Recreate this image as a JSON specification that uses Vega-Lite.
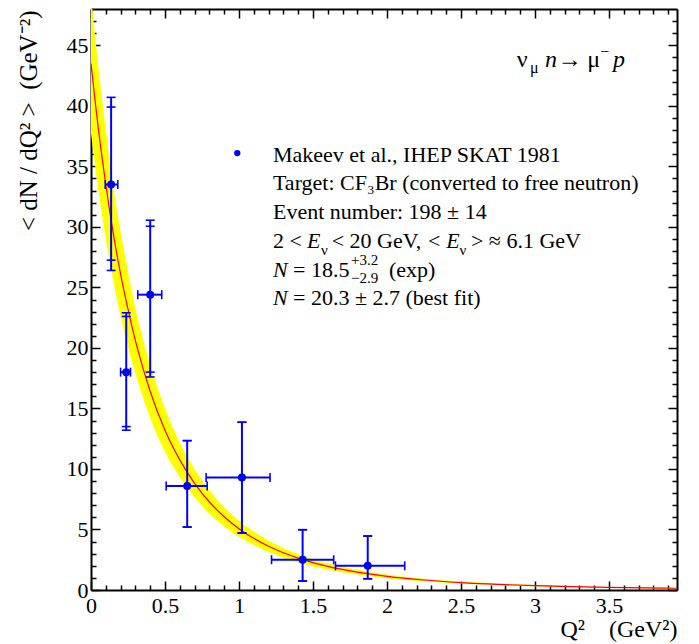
{
  "$schema": "https://vega.github.io/schema/vega-lite/v6.json",
  "width": 586,
  "height": 581,
  "autosize": {"type": "none"},
  "padding": {"left": 91, "top": 9, "right": 22, "bottom": 54},
  "background": "white",
  "config": {
    "view": {"stroke": null},
    "axis": {
      "domainColor": "black", "domainWidth": 2, "tickColor": "black", "tickWidth": 1.5,
      "labelFont": "Liberation Serif", "labelFontSize": 22, "labelColor": "black",
      "titleFont": "Liberation Serif", "titleFontWeight": "normal", "titleColor": "black", "titleFontSize": 25,
      "grid": false, "labelOverlap": false, "labelFlush": false, "zindex": 1
    },
    "text": {"font": "Liberation Serif", "align": "left", "baseline": "alphabetic", "color": "black"}
  },
  "datasets": {
    "fit": [
      {"q2": 0, "f": 43.5, "lo": 37.7, "hi": 49.3},
      {"q2": 0.025, "f": 40.7, "lo": 35.3, "hi": 46.1},
      {"q2": 0.05, "f": 38.1, "lo": 33.0, "hi": 43.2},
      {"q2": 0.1, "f": 33.5, "lo": 29.0, "hi": 38.0},
      {"q2": 0.15, "f": 29.5, "lo": 25.6, "hi": 33.4},
      {"q2": 0.2, "f": 26.1, "lo": 22.6, "hi": 29.6},
      {"q2": 0.25, "f": 23.2, "lo": 20.1, "hi": 26.3},
      {"q2": 0.3, "f": 20.6, "lo": 17.9, "hi": 23.3},
      {"q2": 0.4, "f": 16.4, "lo": 14.2, "hi": 18.6},
      {"q2": 0.5, "f": 13.2, "lo": 11.4, "hi": 15.0},
      {"q2": 0.6, "f": 10.75, "lo": 9.32, "hi": 12.18},
      {"q2": 0.7, "f": 8.81, "lo": 7.64, "hi": 9.98},
      {"q2": 0.8, "f": 7.27, "lo": 6.30, "hi": 8.24},
      {"q2": 0.9, "f": 6.05, "lo": 5.25, "hi": 6.85},
      {"q2": 1.0, "f": 5.06, "lo": 4.39, "hi": 5.73},
      {"q2": 1.2, "f": 3.61, "lo": 3.13, "hi": 4.09},
      {"q2": 1.4, "f": 2.63, "lo": 2.28, "hi": 2.98},
      {"q2": 1.6, "f": 1.95, "lo": 1.69, "hi": 2.21},
      {"q2": 1.8, "f": 1.475, "lo": 1.28, "hi": 1.67},
      {"q2": 2.0, "f": 1.131, "lo": 0.98, "hi": 1.28},
      {"q2": 2.25, "f": 0.826, "lo": 0.716, "hi": 0.936},
      {"q2": 2.5, "f": 0.615, "lo": 0.533, "hi": 0.697},
      {"q2": 2.75, "f": 0.465, "lo": 0.403, "hi": 0.527},
      {"q2": 3.0, "f": 0.357, "lo": 0.310, "hi": 0.404},
      {"q2": 3.25, "f": 0.278, "lo": 0.241, "hi": 0.315},
      {"q2": 3.5, "f": 0.219, "lo": 0.190, "hi": 0.248},
      {"q2": 3.75, "f": 0.174, "lo": 0.151, "hi": 0.197},
      {"q2": 3.96, "f": 0.145, "lo": 0.126, "hi": 0.164}
    ],
    "pts": [
      {"q2": 0.136, "xLo": 0.096, "xHi": 0.181, "y": 33.5, "yLo": 26.4, "yHi": 40.7, "yLo2": 27.25, "yHi2": 39.9},
      {"q2": 0.238, "xLo": 0.200, "xHi": 0.267, "y": 18.0, "yLo": 13.2, "yHi": 22.9, "yLo2": 13.5, "yHi2": 22.6},
      {"q2": 0.400, "xLo": 0.316, "xHi": 0.478, "y": 24.4, "yLo": 17.6, "yHi": 30.55, "yLo2": 18.0, "yHi2": 30.05},
      {"q2": 0.650, "xLo": 0.508, "xHi": 0.785, "y": 8.6, "yLo": 5.2, "yHi": 12.34, "yLo2": 5.2, "yHi2": 12.34},
      {"q2": 1.020, "xLo": 0.778, "xHi": 1.210, "y": 9.3, "yLo": 4.71, "yHi": 13.86, "yLo2": 4.71, "yHi2": 13.86},
      {"q2": 1.430, "xLo": 1.220, "xHi": 1.640, "y": 2.5, "yLo": 0.74, "yHi": 4.98, "yLo2": 0.74, "yHi2": 4.98},
      {"q2": 1.870, "xLo": 1.652, "xHi": 2.120, "y": 2.0, "yLo": 0.93, "yHi": 4.46, "yLo2": 0.93, "yHi2": 4.46}
    ],
    "leg": [
      {"q2": 0.9885, "v": 36.1}
    ],
    "txt": [
      {"g": "n", "q2": 1.2297, "v": 35.39, "t": "Makeev et al., IHEP SKAT 1981"},
      {"g": "n", "q2": 1.2297, "v": 33.05, "t": "Target: CF₃Br (converted to free neutron)"},
      {"g": "n", "q2": 1.2297, "v": 30.63, "t": "Event number: 198 ± 14"},
      {"g": "n", "q2": 1.2297, "v": 28.23, "t": "2 <"},
      {"g": "i", "q2": 1.4595, "v": 28.23, "t": "E"},
      {"g": "s", "q2": 1.554, "v": 27.68, "t": "ν"},
      {"g": "n", "q2": 1.6264, "v": 28.23, "t": "< 20 GeV,"},
      {"g": "n", "q2": 2.277, "v": 28.23, "t": "<"},
      {"g": "i", "q2": 2.40, "v": 28.23, "t": "E"},
      {"g": "s", "q2": 2.49, "v": 27.68, "t": "ν"},
      {"g": "n", "q2": 2.5676, "v": 28.23, "t": "> ≈ 6.1 GeV"},
      {"g": "i", "q2": 1.2297, "v": 25.88, "t": "N"},
      {"g": "n", "q2": 1.3649, "v": 25.88, "t": "= 18.5"},
      {"g": "s", "q2": 1.7568, "v": 26.85, "t": "+3.2"},
      {"g": "s", "q2": 1.7568, "v": 25.40, "t": "−2.9"},
      {"g": "n", "q2": 2.0135, "v": 25.88, "t": "(exp)"},
      {"g": "i", "q2": 1.2297, "v": 23.55, "t": "N"},
      {"g": "n", "q2": 1.3649, "v": 23.55, "t": "= 20.3 ± 2.7 (best fit)"},
      {"g": "rn", "q2": 2.8764, "v": 43.23, "t": "ν"},
      {"g": "rs", "q2": 2.9662, "v": 42.74, "t": "μ"},
      {"g": "ri", "q2": 3.0676, "v": 43.23, "t": "n"},
      {"g": "rn", "q2": 3.1534, "v": 43.23, "t": "→"},
      {"g": "rn", "q2": 3.3534, "v": 43.23, "t": "μ"},
      {"g": "rs", "q2": 3.442, "v": 44.03, "t": "−"},
      {"g": "ri", "q2": 3.527, "v": 43.23, "t": "p"}
    ]
  },
  "resolve": {"axis": {"x": "independent", "y": "independent"}},
  "layer": [
    {
      "data": {"name": "fit"},
      "mark": {"type": "area", "color": "#ffff00", "opacity": 1, "interpolate": "monotone", "clip": true},
      "encoding": {
        "x": {"field": "q2", "type": "quantitative", "scale": {"domain": [0, 3.96], "nice": false, "zero": false},
          "axis": {
            "orient": "bottom",
            "values": [0,0.1,0.2,0.3,0.4,0.5,0.6,0.7,0.8,0.9,1,1.1,1.2,1.3,1.4,1.5,1.6,1.7,1.8,1.9,2,2.1,2.2,2.3,2.4,2.5,2.6,2.7,2.8,2.9,3,3.1,3.2,3.3,3.4,3.5,3.6,3.7,3.8,3.9],
            "tickSize": {"condition": {"test": "abs(datum.value*2-round(datum.value*2))<0.01", "value": -9}, "value": -5},
            "labelExpr": "abs(datum.value*2-round(datum.value*2))<0.01 ? format(datum.value, '~g') : ''",
            "labelPadding": 14,
            "title": "Q²\u00a0\u00a0\u00a0\u00a0(GeV²)",
            "titleFontSize": 24,
            "titleX": 586, "titleY": 46, "titleAlign": "right", "titleBaseline": "alphabetic", "titleAnchor": "end"
          }},
        "y": {"field": "lo", "type": "quantitative", "scale": {"domain": [0, 48], "nice": false, "zero": false},
          "axis": {
            "orient": "left",
            "values": [0,1,2,3,4,5,6,7,8,9,10,11,12,13,14,15,16,17,18,19,20,21,22,23,24,25,26,27,28,29,30,31,32,33,34,35,36,37,38,39,40,41,42,43,44,45,46,47],
            "tickSize": {"condition": {"test": "datum.value % 5 === 0", "value": -9}, "value": -5},
            "labelExpr": "datum.value % 5 === 0 ? datum.label : ''",
            "labelPadding": 12,
            "title": "< dN / dQ² >\u00a0\u00a0(GeV⁻²)",
            "titleAngle": -90, "titleX": -55, "titleY": 1, "titleAlign": "right", "titleBaseline": "alphabetic", "titleAnchor": "end"
          }},
        "y2": {"field": "hi"}
      }
    },
    {
      "data": {"name": "fit"},
      "mark": {"type": "line", "color": "#ff0000", "strokeWidth": 1.2, "interpolate": "monotone", "clip": true},
      "encoding": {
        "x": {"field": "q2", "type": "quantitative", "scale": {"domain": [0, 3.96], "nice": false, "zero": false},
          "axis": {
            "orient": "top",
            "values": [0,0.1,0.2,0.3,0.4,0.5,0.6,0.7,0.8,0.9,1,1.1,1.2,1.3,1.4,1.5,1.6,1.7,1.8,1.9,2,2.1,2.2,2.3,2.4,2.5,2.6,2.7,2.8,2.9,3,3.1,3.2,3.3,3.4,3.5,3.6,3.7,3.8,3.9],
            "tickSize": {"condition": {"test": "abs(datum.value*2-round(datum.value*2))<0.01", "value": -9}, "value": -5},
            "labels": false, "title": null
          }},
        "y": {"field": "f", "type": "quantitative", "scale": {"domain": [0, 48], "nice": false, "zero": false},
          "axis": {
            "orient": "right",
            "values": [0,1,2,3,4,5,6,7,8,9,10,11,12,13,14,15,16,17,18,19,20,21,22,23,24,25,26,27,28,29,30,31,32,33,34,35,36,37,38,39,40,41,42,43,44,45,46,47],
            "tickSize": {"condition": {"test": "datum.value % 5 === 0", "value": -9}, "value": -5},
            "labels": false, "title": null
          }}
      }
    },
    {
      "data": {"name": "pts"},
      "mark": {"type": "rule", "color": "#0000ff", "strokeWidth": 2},
      "encoding": {
        "x": {"field": "q2", "type": "quantitative", "scale": {"domain": [0, 3.96], "nice": false, "zero": false}, "axis": null},
        "y": {"field": "yLo", "type": "quantitative", "scale": {"domain": [0, 48], "nice": false, "zero": false}, "axis": null},
        "y2": {"field": "yHi"}
      }
    },
    {
      "data": {"name": "pts"},
      "mark": {"type": "rule", "color": "#0000ff", "strokeWidth": 2},
      "encoding": {
        "x": {"field": "xLo", "type": "quantitative", "scale": {"domain": [0, 3.96], "nice": false, "zero": false}, "axis": null},
        "x2": {"field": "xHi"},
        "y": {"field": "y", "type": "quantitative", "scale": {"domain": [0, 48], "nice": false, "zero": false}, "axis": null}
      }
    },
    {
      "data": {"name": "pts"},
      "transform": [{"fold": ["yLo", "yHi", "yLo2", "yHi2"], "as": ["k", "cv"]}],
      "mark": {"type": "tick", "orient": "horizontal", "color": "#0000ff", "size": 9, "thickness": 1.6, "opacity": 1},
      "encoding": {
        "x": {"field": "q2", "type": "quantitative", "scale": {"domain": [0, 3.96], "nice": false, "zero": false}, "axis": null},
        "y": {"field": "cv", "type": "quantitative", "scale": {"domain": [0, 48], "nice": false, "zero": false}, "axis": null}
      }
    },
    {
      "data": {"name": "pts"},
      "transform": [{"fold": ["xLo", "xHi"], "as": ["k", "cx"]}],
      "mark": {"type": "tick", "orient": "vertical", "color": "#0000ff", "size": 9, "thickness": 1.6, "opacity": 1},
      "encoding": {
        "x": {"field": "cx", "type": "quantitative", "scale": {"domain": [0, 3.96], "nice": false, "zero": false}, "axis": null},
        "y": {"field": "y", "type": "quantitative", "scale": {"domain": [0, 48], "nice": false, "zero": false}, "axis": null}
      }
    },
    {
      "data": {"name": "pts"},
      "mark": {"type": "circle", "color": "#0000ff", "size": 64, "opacity": 1},
      "encoding": {
        "x": {"field": "q2", "type": "quantitative", "scale": {"domain": [0, 3.96], "nice": false, "zero": false}, "axis": null},
        "y": {"field": "y", "type": "quantitative", "scale": {"domain": [0, 48], "nice": false, "zero": false}, "axis": null}
      }
    },
    {
      "data": {"name": "leg"},
      "mark": {"type": "circle", "color": "#0000ff", "size": 40, "opacity": 1},
      "encoding": {
        "x": {"field": "q2", "type": "quantitative", "scale": {"domain": [0, 3.96], "nice": false, "zero": false}, "axis": null},
        "y": {"field": "v", "type": "quantitative", "scale": {"domain": [0, 48], "nice": false, "zero": false}, "axis": null}
      }
    },
    {
      "data": {"name": "txt"},
      "transform": [{"filter": "datum.g === 'n'"}],
      "mark": {"type": "text", "fontSize": 22},
      "encoding": {
        "x": {"field": "q2", "type": "quantitative", "scale": {"domain": [0, 3.96], "nice": false, "zero": false}, "axis": null},
        "y": {"field": "v", "type": "quantitative", "scale": {"domain": [0, 48], "nice": false, "zero": false}, "axis": null},
        "text": {"field": "t"}
      }
    },
    {
      "data": {"name": "txt"},
      "transform": [{"filter": "datum.g === 'i'"}],
      "mark": {"type": "text", "fontSize": 22, "fontStyle": "italic"},
      "encoding": {
        "x": {"field": "q2", "type": "quantitative", "scale": {"domain": [0, 3.96], "nice": false, "zero": false}, "axis": null},
        "y": {"field": "v", "type": "quantitative", "scale": {"domain": [0, 48], "nice": false, "zero": false}, "axis": null},
        "text": {"field": "t"}
      }
    },
    {
      "data": {"name": "txt"},
      "transform": [{"filter": "datum.g === 's'"}],
      "mark": {"type": "text", "fontSize": 15},
      "encoding": {
        "x": {"field": "q2", "type": "quantitative", "scale": {"domain": [0, 3.96], "nice": false, "zero": false}, "axis": null},
        "y": {"field": "v", "type": "quantitative", "scale": {"domain": [0, 48], "nice": false, "zero": false}, "axis": null},
        "text": {"field": "t"}
      }
    },
    {
      "data": {"name": "txt"},
      "transform": [{"filter": "datum.g === 'rn'"}],
      "mark": {"type": "text", "fontSize": 24},
      "encoding": {
        "x": {"field": "q2", "type": "quantitative", "scale": {"domain": [0, 3.96], "nice": false, "zero": false}, "axis": null},
        "y": {"field": "v", "type": "quantitative", "scale": {"domain": [0, 48], "nice": false, "zero": false}, "axis": null},
        "text": {"field": "t"}
      }
    },
    {
      "data": {"name": "txt"},
      "transform": [{"filter": "datum.g === 'ri'"}],
      "mark": {"type": "text", "fontSize": 24, "fontStyle": "italic"},
      "encoding": {
        "x": {"field": "q2", "type": "quantitative", "scale": {"domain": [0, 3.96], "nice": false, "zero": false}, "axis": null},
        "y": {"field": "v", "type": "quantitative", "scale": {"domain": [0, 48], "nice": false, "zero": false}, "axis": null},
        "text": {"field": "t"}
      }
    },
    {
      "data": {"name": "txt"},
      "transform": [{"filter": "datum.g === 'rs'"}],
      "mark": {"type": "text", "fontSize": 16},
      "encoding": {
        "x": {"field": "q2", "type": "quantitative", "scale": {"domain": [0, 3.96], "nice": false, "zero": false}, "axis": null},
        "y": {"field": "v", "type": "quantitative", "scale": {"domain": [0, 48], "nice": false, "zero": false}, "axis": null},
        "text": {"field": "t"}
      }
    }
  ]
}
